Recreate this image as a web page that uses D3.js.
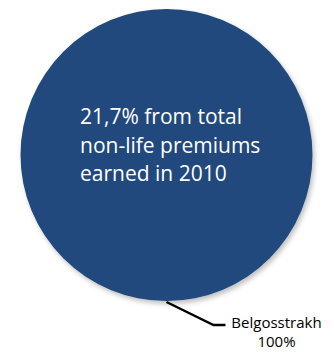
<!DOCTYPE html>
<html lang="en">
<head>
<meta charset="utf-8">
<title>Belgosstrakh share</title>
<script src="https://cdn.jsdelivr.net/npm/d3@7/dist/d3.min.js"></script>
<style>
  body { margin: 0; background: #fff; }
  text { font-family: "Open Sans", sans-serif; }
</style>
</head>
<body>
<script>
var companies = ["Belgosstrakh"];
var shares = [100];
var shareLabels = ["100%"];
var noteLines = ["21,7% from total", "non-life premiums", "earned in 2010"];

var w = 334, h = 352;
var cx = 166.5, cy = 155, r = 146;

var svg = d3.select("body").append("svg")
    .attr("width", w)
    .attr("height", h);

var defs = svg.append("defs");
var f = defs.append("filter").attr("id", "shadow")
    .attr("x", "-10%").attr("y", "-10%").attr("width", "130%").attr("height", "130%");
f.append("feDropShadow")
    .attr("dx", 2).attr("dy", 3).attr("stdDeviation", 2.5)
    .attr("flood-color", "#000").attr("flood-opacity", 0.25);

var pie = d3.pie().sort(null).startAngle(Math.PI).endAngle(3 * Math.PI);
var arc = d3.arc().innerRadius(0).outerRadius(r);
var arcs = pie(shares);

var g = svg.append("g").attr("transform", "translate(" + cx + "," + cy + ")");

g.selectAll("path")
    .data(arcs)
    .enter()
    .append("path")
    .attr("d", arc)
    .attr("fill", "#204a7d")
    .attr("filter", "url(#shadow)");

// leader line from the slice edge (its start angle) to the label
var edge = d3.arc().innerRadius(r).outerRadius(r);
arcs.forEach(function(d, i) {
    var p = edge.centroid({startAngle: d.startAngle, endAngle: d.startAngle});
    var elbow = [p[0] + 47, p[1] + 24];
    var end = [elbow[0] + 12, elbow[1]];
    g.append("polyline")
        .attr("points", [[p[0], p[1] + 1], elbow, end].map(function(q) { return q.join(","); }).join(" "))
        .attr("fill", "none")
        .attr("stroke", "#000")
        .attr("stroke-width", 2.5);
    var lbl = g.append("text")
        .attr("x", end[0] + 51)
        .attr("y", end[1] + 3)
        .attr("text-anchor", "middle")
        .style("font-size", "15px")
        .attr("fill", "#000");
    lbl.append("tspan").attr("x", end[0] + 51).attr("dy", 0).text(companies[i]);
    lbl.append("tspan").attr("x", end[0] + 51).attr("dy", 19).text(shareLabels[i]);
});

var note = svg.append("text")
    .attr("x", 80)
    .attr("y", 124)
    .attr("fill", "#fff")
    .style("font-size", "21px");
noteLines.forEach(function(t, i) {
    note.append("tspan").attr("x", 80).attr("dy", i === 0 ? 0 : 28.5).text(t);
});
</script>
</body>
</html>
